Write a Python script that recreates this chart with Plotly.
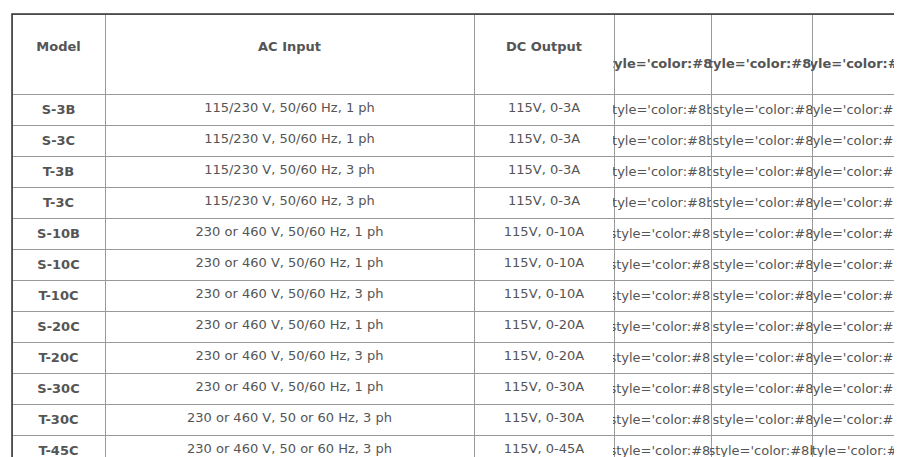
import plotly.graph_objects as go

models = ["S-3B", "S-3C", "T-3B", "T-3C", "S-10B", "S-10C", "T-10C", "S-20C",
          "T-20C", "S-30C", "T-30C", "T-45C", "T-60C"]
ac_input = ["115/230 V, 50/60 Hz, 1 ph"] * 2 + ["115/230 V, 50/60 Hz, 3 ph"] * 2 + [
    "230 or 460 V, 50/60 Hz, 1 ph", "230 or 460 V, 50/60 Hz, 1 ph",
    "230 or 460 V, 50/60 Hz, 3 ph", "230 or 460 V, 50/60 Hz, 1 ph",
    "230 or 460 V, 50/60 Hz, 3 ph", "230 or 460 V, 50/60 Hz, 1 ph",
    "230 or 460 V, 50 or 60 Hz, 3 ph", "230 or 460 V, 50 or 60 Hz, 3 ph",
    "230 or 460 V, 50 or 60 Hz, 3 ph"]
dc_output = ["115V, 0-3A"] * 4 + ["115V, 0-10A"] * 3 + ["115V, 0-20A"] * 2 + [
    "115V, 0-30A"] * 2 + ["115V, 0-45A", "115V, 0-60A"]
length_in = ["9.5"] * 4 + ["15.5"] * 7 + ["24.0"] * 2
length_cm = ["24.1"] * 4 + ["39.4"] * 7 + ["61.0"] * 2
width_in = ["11.25"] * 7 + ["16.25"] * 4 + ["24.0"] * 2
width_cm = ["28.6"] * 7 + ["41.3"] * 4 + ["61.0"] * 2
height_in = ["9.0"] * 11 + ["35.0"] * 2
height_cm = ["22.9"] * 11 + ["88.9"] * 2

RED = "#8b0000"
GRAY = "#555555"


def red(s):
    # tab instead of space so the table's word wrap doesn't split the tag
    return f"<span\tstyle='color:{RED}'>{s}</span>"


def dual(a, b):
    return [f"{x}/{red(y)}" for x, y in zip(a, b)]


unit = f"in/{red('cm')}"
header = ["&nbsp;<br><b>Model</b>", "&nbsp;<br><b>AC Input</b>", "&nbsp;<br><b>DC Output</b>",
          f"<b>Length<br>(A)<br>{unit}</b>", f"<b>Width<br>(B)<br>{unit}</b>",
          f"<b>Height<br>(C)<br>{unit}</b>"]

fig = go.Figure(go.Table(
    columnwidth=[93, 369, 140, 97, 101, 92],
    header=dict(values=header, height=80, align="center",
                fill_color="white", line_color="#999999",
                font=dict(family="DejaVu Sans", size=13, color=GRAY)),
    cells=dict(values=[[f"<b>{m}</b>" for m in models], ac_input, dc_output,
                       dual(length_in, length_cm), dual(width_in, width_cm),
                       dual(height_in, height_cm)],
               height=28, align="center", fill_color="white", line_color="#999999",
               font=dict(family="DejaVu Sans", size=13, color=GRAY)),
    domain=dict(x=[0, 1], y=[0, 1]),
))
fig.add_shape(type="rect", xref="paper", yref="paper",
              x0=0, x1=1, y0=0, y1=1,
              line=dict(color="#333333", width=1.5))
fig.update_layout(width=902, height=457, margin=dict(l=4, r=6, t=6, b=7),
                  paper_bgcolor="white", plot_bgcolor="white")
fig.write_html("out.html")
